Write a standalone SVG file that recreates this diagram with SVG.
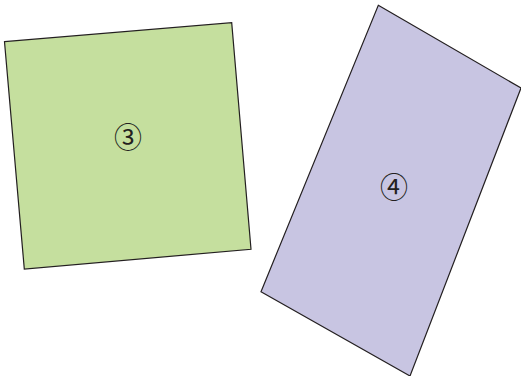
<svg xmlns="http://www.w3.org/2000/svg" width="521" height="376" viewBox="0 0 521 376">
<style>
.shape{stroke:#231f20;stroke-width:1.2;stroke-linejoin:miter}
.lbl{font-family:"Noto Sans CJK JP","DejaVu Sans",sans-serif;font-size:28px;fill:#231f20;text-anchor:middle;dominant-baseline:central}
</style>
<rect width="521" height="376" fill="#ffffff"/>
<g id="node3">
<polygon class="shape" fill="#c5df9e" points="4.5,41.7 231.7,22.7 251,249.3 24.3,269"/>
<text class="lbl" x="128" y="136">③</text>
</g>
<g id="node4">
<polygon class="shape" fill="#c8c5e2" points="378.3,5.3 521,88 410,376 261,291.7"/>
<text class="lbl" x="394" y="185.5">④</text>
</g>
<g id="connectors"></g>
</svg>
